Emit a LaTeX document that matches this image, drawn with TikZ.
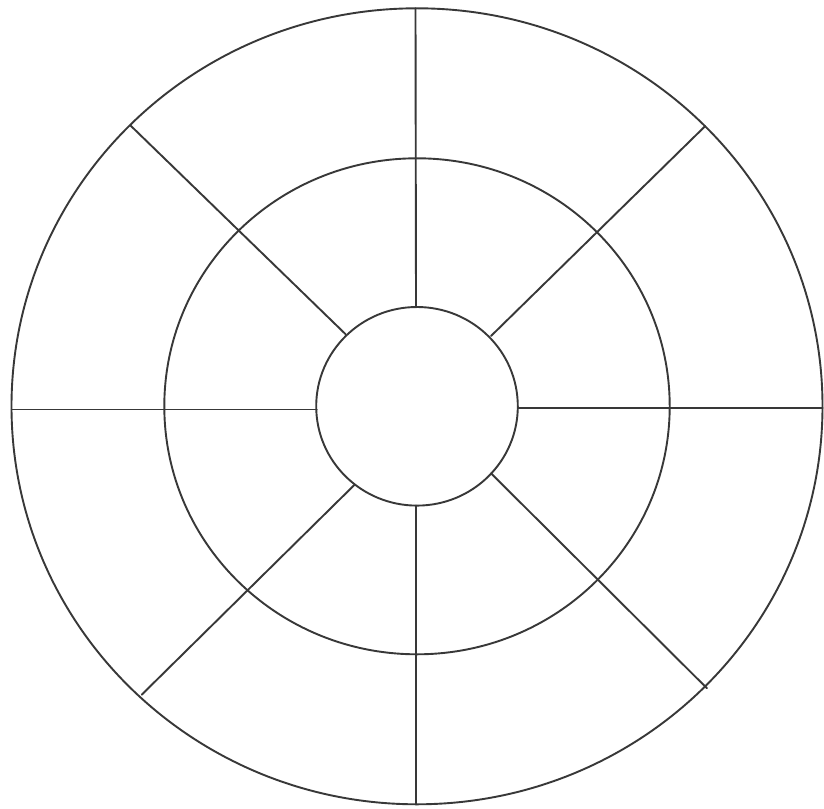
\documentclass[tikz,border=0pt]{standalone}
\begin{document}
\begin{tikzpicture}[x=0.5pt,y=-0.5pt,
  ring/.style={draw=black!78,line width=0.95pt},
  spoke/.style={draw=black!78,line width=0.95pt,line cap=round}]
\useasboundingbox[fill=white] (0,0) rectangle (824,808);
\coordinate (c) at (417,406.3);
% rings
\draw[ring] (c) ellipse [x radius=202.75pt, y radius=199pt];
\draw[ring] (c) ellipse [x radius=126.35pt, y radius=124pt];
\draw[ring] (c) ellipse [x radius=50.4pt, y radius=49.65pt];
% spoke end points
\coordinate (tO) at (415.5,8.3);   \coordinate (tI) at (416,307.5);
\coordinate (bI) at (416,505.5);   \coordinate (bO) at (416,804.5);
\coordinate (lO) at (11.7,409.5);  \coordinate (lI) at (316.8,409.5);
\coordinate (rI) at (518.2,408);   \coordinate (rO) at (822.6,408);
\coordinate (ulI) at (345.7,334.3); \coordinate (ulO) at (130.7,125.7);
\coordinate (urI) at (491,336);     \coordinate (urO) at (705.3,126);
\coordinate (llI) at (354.3,485);   \coordinate (llO) at (141.7,694.7);
\coordinate (lrI) at (491,473.3);   \coordinate (lrO) at (707,688.3);
% spokes
\draw[spoke] (tO) -- (tI);
\draw[spoke] (bI) -- (bO);
\draw[spoke] (lO) -- (lI);
\draw[spoke] (rI) -- (rO);
\draw[spoke] (ulI) -- (ulO);
\draw[spoke] (urI) -- (urO);
\draw[spoke] (llI) -- (llO);
\draw[spoke] (lrI) -- (lrO);
\end{tikzpicture}
\end{document}
